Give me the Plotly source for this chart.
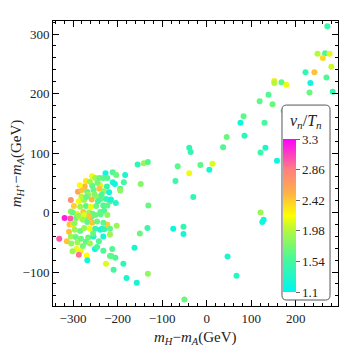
import plotly.graph_objects as go

# m_H - m_A (GeV), m_H+ - m_A (GeV), v_n/T_n
mass_diff_x = [
    271, 249, 266, 276, 261, 280, 222, 242, 269, 152, 152, 168, 179, 233, 231, 283,
    139, 119, 148, 173, 83, 76, 130, 227, 251, 232, 236, 85, 45, 37, -39, -36,
    121, 132, 158, -14, 13, 6, -39, -30, 121, 128, 125, -52, -52, 47, 67, -50,
    -155, -141, -132, -65, -211, -203, -183, -211, -206, -186, -194, -194, -148, -70,
    -131, -204, -217, -202, -217, -150, -133, -75, -212, -217, -205, -162, -187, -209,
    -180, -157, -132, -226, -235, -223,
    -227, -257, -250, -241, -232, -223, -271, -274, -257, -239, -224, -289, -280, -268,
    -254, -241, -231, -219, -305, -287, -275, -266, -258, -247, -238, -226, -215, -298,
    -284, -271, -260, -248, -232, -223, -305, -292, -277, -264, -256, -239, -230, -319,
    -306, -293, -283, -268, -259, -308, -300, -288, -275, -263, -250, -238, -223, -278,
    -268, -257, -246, -232, -309, -296, -284, -275, -262, -250, -239, -230, -217, -331,
    -314, -305, -304, -294, -290, -282, -271, -266, -254, -232, -292, -283, -287, -269,
    -268, -251, -214, -301, -232, -301,
    -245, -262, -236, -281, -252, -244, -270, -297, -255, -242, -278, -262, -246, -285,
]
mass_diff_y = [
    313, 267, 268, 267, 260, 245, 236, 236, 227, 221, 218, 219, 215, 218, 202, 203,
    198, 187, 182, 171, 162, 151, 151, 153, 173, 141, 124, 129, 127, 110, 109, 102,
    101, 109, 87, 80, 82, 72, 66, 26, 0, -12, -16, -24, -36, -74, -106, -146,
    81, 83, 85, 78, 68, 63, 63, 51, 48, 51, 40, 37, 48, 53,
    12, 16, 19, -22, -37, -35, -26, -27, -61, -73, -76, -59, -86, -96,
    -110, -118, -103, -86, -27, -20,
    66, 61, 58, 58, 58, 58, 53, 44, 45, 46, 44, 35, 38, 35,
    38, 40, 36, 34, 21, 19, 21, 30, 22, 27, 23, 23, 22, 11,
    10, 11, 10, 11, 12, 12, 2, -2, 1, 0, -2, 1, 3, -9,
    -10, -9, -9, -7, -8, -20, -21, -5, -4, -6, -4, -3, -4, -12,
    -16, -17, -15, -17, -32, -29, -31, -26, -27, -27, -29, -28, -27, -44,
    -48, -40, -52, -41, -50, -44, -49, -42, -40, -40, -61, -65, -71, -72,
    -80, -61, -73, -65, -64, 0,
    50, 52, 30, 27, 31, 19, 26, -18, -35, -48, -56, -52, -58, 46,
]
vn_tn = [
    1.5, 2.0, 1.6, 2.1, 2.35, 2.05, 1.45, 2.45, 1.6, 2.3, 2.0, 1.65, 2.15, 1.2, 1.7, 1.45,
    1.6, 1.65, 1.7, 1.6, 1.65, 1.2, 1.55, 1.6, 1.6, 1.65, 1.6, 1.4, 1.7, 1.6, 1.4, 1.45,
    1.5, 1.3, 1.2, 1.65, 2.1, 1.25, 2.15, 1.45, 1.9, 1.2, 1.2, 1.45, 1.25, 1.3, 1.35, 1.7,
    1.4, 1.9, 1.6, 1.65, 1.6, 1.7, 1.3, 1.3, 1.2, 1.55, 1.55, 1.85, 1.8, 1.5,
    1.7, 1.35, 1.6, 1.9, 1.9, 1.7, 1.5, 1.2, 1.6, 1.65, 1.6, 1.3, 1.4, 1.55,
    1.3, 1.25, 1.85, 2.1, 1.3, 2.4,
    1.2, 2.15, 1.9, 1.7, 1.65, 1.6, 2.3, 2.5, 1.65, 2.1, 1.45, 2.6, 2.45, 1.7,
    1.65, 2.45, 1.85, 1.25, 2.75, 2.15, 1.9, 1.9, 2.5, 1.9, 1.65, 1.45, 1.25, 2.4,
    1.9, 1.65, 2.15, 1.7, 1.6, 1.65, 1.85, 2.15, 2.45, 1.9, 1.7, 1.65, 1.6, 3.2,
    3.0, 1.7, 2.15, 1.7, 1.65, 2.45, 2.3, 1.9, 2.1, 2.45, 1.7, 1.65, 1.85, 1.9,
    1.65, 2.45, 1.7, 1.65, 2.45, 1.9, 1.7, 1.9, 2.15, 1.45, 1.25, 1.45, 1.65, 3.0,
    2.45, 1.9, 1.85, 1.7, 1.9, 1.7, 1.65, 1.7, 1.3, 1.25, 2.15, 2.15, 2.9, 2.2,
    1.25, 1.2, 1.65, 1.9, 1.6, 1.7,
    1.75, 1.9, 1.6, 2.0, 1.8, 1.55, 1.7, 1.85, 1.7, 1.6, 1.75, 1.9, 1.55, 2.2,
]
cbar_ticks = [1.1, 1.54, 1.98, 2.42, 2.86, 3.3]

SERIF = "Liberation Serif"
TEXT = "#222222"

COLORSCALE = [
    [0.0, "#00f5f0"],
    [0.2, "#40f8a0"],
    [0.4, "#b0f840"],
    [0.5, "#ffff00"],
    [0.65, "#ffb048"],
    [0.8, "#ff8080"],
    [1.0, "#ff00ff"],
]


def rounded_box(x0, y0, x1, y1, r):
    """SVG path for a rounded rectangle in paper coords (plot area is square)."""
    return (
        f"M {x0 + r},{y0} L {x1 - r},{y0} Q {x1},{y0} {x1},{y0 + r} "
        f"L {x1},{y1 - r} Q {x1},{y1} {x1 - r},{y1} "
        f"L {x0 + r},{y1} Q {x0},{y1} {x0},{y1 - r} "
        f"L {x0},{y0 + r} Q {x0},{y0} {x0 + r},{y0} Z"
    )


fig = go.Figure(
    go.Scatter(
        x=mass_diff_x,
        y=mass_diff_y,
        mode="markers",
        marker=dict(
            size=6,
            color=vn_tn,
            cmin=1.1,
            cmax=3.3,
            colorscale=COLORSCALE,
            line_width=0,
            colorbar=dict(
                tickvals=cbar_ticks,
                ticktext=[f"{v:g}" for v in cbar_ticks],
                ticks="outside", ticklen=4, tickcolor="#666",
                tickfont=dict(family=SERIF, size=13, color=TEXT),
                x=0.796, xanchor="left", xpad=3,
                y=0.049, yanchor="bottom", ypad=0,
                len=0.537, lenmode="fraction",
                thickness=13,
                outlinewidth=0,
                bgcolor="rgba(0,0,0,0)", borderwidth=0,
            ),
        ),
        hovertemplate="%{x}, %{y}<br>v/T = %{marker.color}<extra></extra>",
        showlegend=False,
    )
)

# legend frame behind the colour bar, covering the points it sits on
fig.add_shape(
    type="path", xref="paper", yref="paper", layer="above",
    path=rounded_box(0.8035, 0.021, 0.972, 0.705, 0.016),
    fillcolor="white", line=dict(color="#555", width=1),
)
fig.add_annotation(
    text="<i>v<sub>n</sub></i>/<i>T<sub>n</sub></i>",
    xref="paper", yref="paper", x=0.888, y=0.648,
    xanchor="center", yanchor="middle", showarrow=False,
    font=dict(family=SERIF, size=16, color=TEXT),
)
# x-axis label, placed by hand just under the tick labels
fig.add_annotation(
    text="<i>m<sub>H</sub></i>−<i>m<sub>A</sub></i>(GeV)",
    xref="paper", yref="paper", x=0.5, y=-0.112,
    xanchor="center", yanchor="middle", showarrow=False,
    font=dict(family=SERIF, size=15, color=TEXT),
)

axis_common = dict(
    showline=True, linecolor="black", linewidth=1, mirror="allticks",
    ticks="inside", ticklen=6, tickcolor="black", dtick=100,
    minor=dict(dtick=20, ticks="inside", ticklen=3, tickcolor="black"),
    showgrid=False, zeroline=False, automargin=False,
    tickfont=dict(family=SERIF, size=13, color=TEXT),
)

fig.update_xaxes(range=[-345, 295], tick0=0, **axis_common)
fig.update_yaxes(
    range=[-157, 322], tick0=0,
    title=dict(text="<i>m<sub>H<sup>+</sup></sub></i>−<i>m<sub>A</sub></i>(GeV)",
               font=dict(family=SERIF, size=15, color=TEXT)),
    **axis_common,
)

# the page body keeps its default 8px margin, so the figure is 8px smaller
# than the window and the plot margins are trimmed to match
fig.update_layout(
    width=352, height=340,
    margin=dict(l=45, r=22, t=13, b=42),
    paper_bgcolor="white", plot_bgcolor="white",
)

fig.write_html("out.html")
